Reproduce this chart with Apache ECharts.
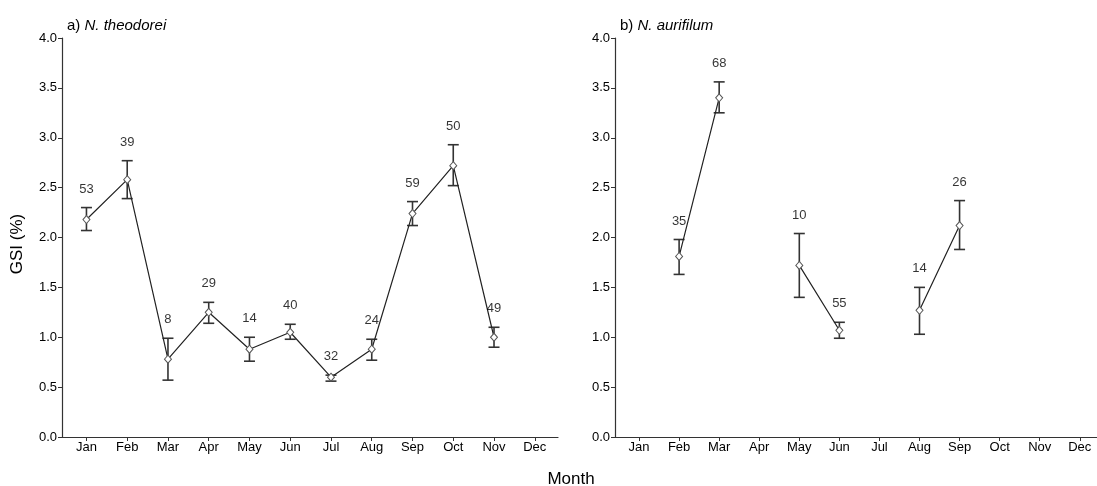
<!DOCTYPE html>
<html>
<head>
<meta charset="utf-8">
<script src="https://cdn.jsdelivr.net/npm/echarts@6/dist/echarts.min.js"></script>
<style>
  html, body { margin: 0; padding: 0; background: #ffffff; }
  #chart { width: 1097px; height: 486px; }
</style>
</head>
<body>
<div id="chart"></div>
<script>
// Months on the x axis
const months = ['Jan', 'Feb', 'Mar', 'Apr', 'May', 'Jun', 'Jul', 'Aug', 'Sep', 'Oct', 'Nov', 'Dec'];
const yTicks = [0, 0.5, 1, 1.5, 2, 2.5, 3, 3.5, 4];

// a) N. theodorei: mean GSI, lower/upper error bar, sample size
const theoGSI  = [2.18, 2.58, 0.78, 1.25, 0.88, 1.05, 0.60, 0.88, 2.24, 2.72, 1.00, null];
const theoLow  = [2.07, 2.39, 0.57, 1.14, 0.76, 0.98, 0.56, 0.77, 2.12, 2.52, 0.90, null];
const theoHigh = [2.30, 2.77, 0.99, 1.35, 1.00, 1.13, 0.62, 0.98, 2.36, 2.93, 1.10, null];
const theoN    = [53, 39, 8, 29, 14, 40, 32, 24, 59, 50, 49, null];

// b) N. aurifilum: mean GSI, lower/upper error bar, sample size
const auriGSI  = [null, 1.81, 3.40, null, 1.72, 1.07, null, 1.27, 2.12, null, null, null];
const auriLow  = [null, 1.63, 3.25, null, 1.40, 0.99, null, 1.03, 1.88, null, null, null];
const auriHigh = [null, 1.98, 3.56, null, 2.04, 1.15, null, 1.50, 2.37, null, null, null];
const auriN    = [null, 35, 68, null, 10, 55, null, 14, 26, null, null, null];

const FONT = '"Liberation Sans", Arial, sans-serif';
const INK = '#000000';
const AXIS = '#333333';
const monthPos = months.map((m, i) => i + 1);

function xAxisFor(gridIndex, max) {
  return {
    type: 'value', gridIndex, min: 0.4, max,
    splitLine: { show: false },
    axisLine: { show: true, onZero: false, lineStyle: { color: AXIS, width: 1.2 } },
    axisTick: { show: true, customValues: monthPos, length: 4, lineStyle: { color: AXIS } },
    axisLabel: {
      customValues: monthPos, margin: 4, color: INK, fontSize: 13, fontFamily: FONT,
      formatter: v => months[Math.round(v) - 1] || ''
    }
  };
}

function yAxisFor(gridIndex) {
  return {
    type: 'value', gridIndex, min: 0, max: 4, interval: 0.5,
    splitLine: { show: false },
    axisLine: { show: true, lineStyle: { color: AXIS, width: 1.2 } },
    axisTick: { show: true, length: 4, lineStyle: { color: AXIS } },
    axisLabel: {
      margin: 5, color: INK, fontSize: 13, fontFamily: FONT,
      formatter: v => v.toFixed(1)
    }
  };
}

function lineSeries(idx, vals) {
  return {
    type: 'line', xAxisIndex: idx, yAxisIndex: idx,
    data: vals.map((v, i) => [i + 1, v == null ? '-' : v]),
    connectNulls: false,
    symbol: 'diamond', symbolSize: [7, 8], showSymbol: true,
    lineStyle: { color: '#222', width: 1.2 },
    itemStyle: { color: '#ffffff', borderColor: '#555', borderWidth: 1 },
    z: 3, silent: true
  };
}

function errorSeries(idx, lo, hi) {
  const data = [];
  lo.forEach((v, i) => { if (v != null) data.push([i + 1, v, hi[i]]); });
  return {
    type: 'custom', xAxisIndex: idx, yAxisIndex: idx, data, silent: true, z: 2,
    renderItem: (params, api) => {
      const x = api.value(0);
      const pLo = api.coord([x, api.value(1)]);
      const pHi = api.coord([x, api.value(2)]);
      const cap = 5.5;
      const style = { stroke: '#333', lineWidth: 1.6 };
      return {
        type: 'group',
        children: [
          { type: 'line', shape: { x1: pLo[0], y1: pLo[1], x2: pHi[0], y2: pHi[1] }, style },
          { type: 'line', shape: { x1: pHi[0] - cap, y1: pHi[1], x2: pHi[0] + cap, y2: pHi[1] }, style },
          { type: 'line', shape: { x1: pLo[0] - cap, y1: pLo[1], x2: pLo[0] + cap, y2: pLo[1] }, style }
        ]
      };
    }
  };
}

function countSeries(idx, hi, n) {
  const data = [];
  hi.forEach((v, i) => { if (v != null) data.push({ value: [i + 1, v], n: n[i] }); });
  return {
    type: 'scatter', xAxisIndex: idx, yAxisIndex: idx, data, symbolSize: 0, silent: true, z: 4,
    label: {
      show: true, position: 'top', distance: 12,
      color: INK, fontSize: 13, fontFamily: FONT, fontWeight: 'normal',
      formatter: p => String(p.data.n)
    }
  };
}

const titleRich = {
  n: { fontSize: 15, color: INK, fontFamily: FONT, fontWeight: 'normal' },
  i: { fontSize: 15, color: INK, fontFamily: FONT, fontWeight: 'normal', fontStyle: 'italic' }
};

const chart = echarts.init(document.getElementById('chart'), null, { renderer: 'canvas' });
chart.setOption({
  backgroundColor: '#ffffff',
  animation: false,
  textStyle: { fontFamily: FONT },
  title: [
    {
      text: '{n|a) }{i|N. theodorei}', left: 62, top: 13,
      textStyle: { fontWeight: 'normal', rich: titleRich }
    },
    {
      text: '{n|b) }{i|N. aurifilum}', left: 615, top: 13,
      textStyle: { fontWeight: 'normal', rich: titleRich }
    }
  ],
  grid: [
    { left: 62, top: 38, width: 496, height: 399 },
    { left: 615, top: 38, width: 482, height: 399 }
  ],
  xAxis: [xAxisFor(0, 12.57), xAxisFor(1, 12.43)],
  yAxis: [yAxisFor(0), yAxisFor(1)],
  graphic: [
    {
      type: 'text', x: 17, y: 244, rotation: Math.PI / 2,
      style: { text: 'GSI (%)', fill: INK, fontSize: 17, fontFamily: FONT, align: 'center', verticalAlign: 'middle' }
    },
    {
      type: 'text', x: 571, y: 479,
      style: { text: 'Month', fill: INK, fontSize: 17, fontFamily: FONT, align: 'center', verticalAlign: 'middle' }
    }
  ],
  series: [
    errorSeries(0, theoLow, theoHigh),
    lineSeries(0, theoGSI),
    countSeries(0, theoHigh, theoN),
    errorSeries(1, auriLow, auriHigh),
    lineSeries(1, auriGSI),
    countSeries(1, auriHigh, auriN)
  ]
});
</script>
</body>
</html>
